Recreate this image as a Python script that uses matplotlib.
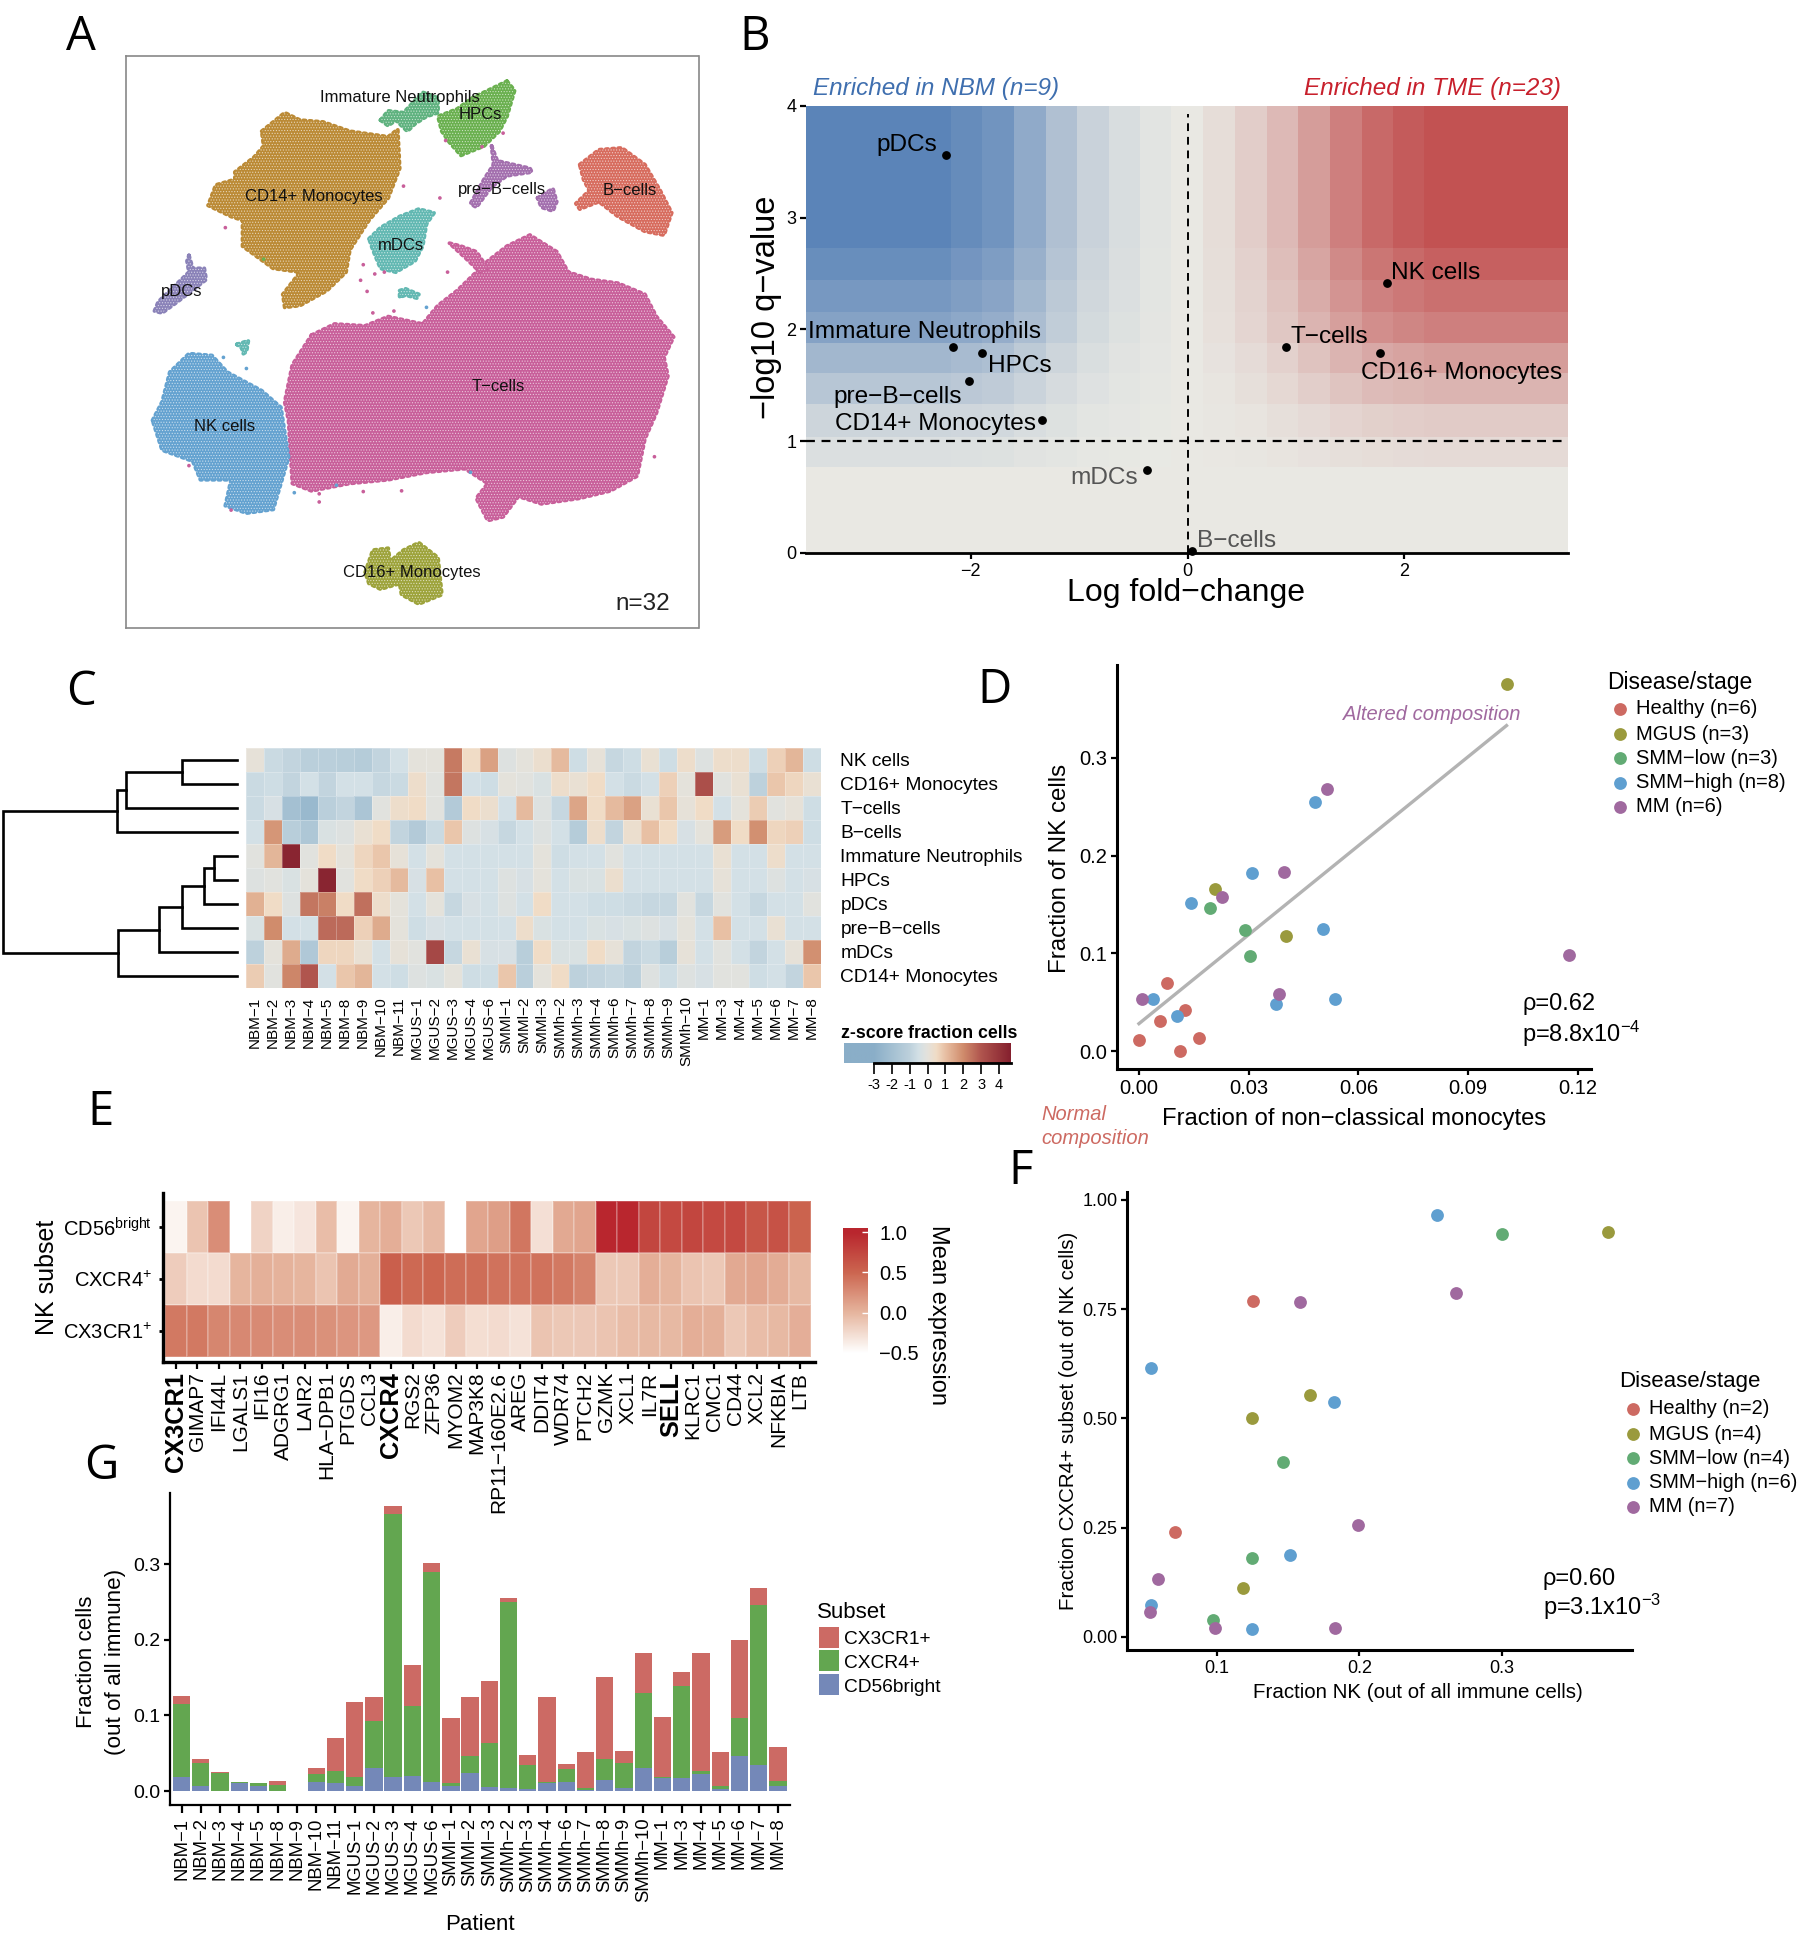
import numpy as np
import matplotlib
matplotlib.use("Agg")
import matplotlib.pyplot as plt
from matplotlib.colors import LinearSegmentedColormap, Normalize
from matplotlib.patches import Rectangle

plt.rcParams['font.family'] = ['Liberation Sans', 'DejaVu Sans']
plt.rcParams['mathtext.default'] = 'regular'
plt.rcParams['hatch.linewidth'] = 0.5
plt.rcParams['axes.unicode_minus'] = True

M = "\u2212"

# ---- panel A, cluster outlines
tsne_outlines = {
    'T-cells': ([500, 560, 640, 700, 790, 830, 880, 960, 1010, 1070, 1140, 1170, 1230, 1300, 1370, 1400, 1445, 1420, 1430, 1400, 1370, 1350, 1280, 1200, 1100, 1040, 1000, 960, 930, 960, 900, 800, 700, 600, 500, 450, 440, 430, 450],
                [770, 740, 745, 720, 740, 690, 650, 570, 530, 500, 545, 600, 620, 630, 660, 720, 775, 830, 880, 980, 1050, 1150, 1190, 1210, 1225, 1205, 1260, 1270, 1210, 1170, 1130, 1140, 1160, 1170, 1190, 1170, 1000, 950, 850]),
    'T-tail': ([860, 890, 930, 960, 940, 900], [522, 530, 545, 590, 600, 560]),
    'NK cells': ([85, 110, 130, 180, 240, 280, 370, 420, 440, 420, 400, 330, 275, 290, 210, 190, 110],
                 [1000, 950, 870, 820, 825, 870, 920, 965, 1100, 1170, 1240, 1250, 1230, 1160, 1160, 1110, 1080]),
    'CD14': ([370, 430, 470, 530, 600, 700, 725, 730, 700, 650, 600, 590, 540, 470, 430, 425, 470, 400, 320, 320, 290, 230, 250, 300, 300, 350, 375],
             [220, 170, 190, 195, 220, 235, 215, 320, 400, 460, 540, 600, 650, 690, 695, 660, 600, 590, 530, 460, 450, 420, 365, 350, 330, 290, 260]),
    'mDCs': ([650, 680, 730, 780, 820, 800, 790, 770, 720, 680, 660], [510, 480, 450, 430, 440, 470, 530, 570, 600, 590, 540]),
    'HPCs': ([1010, 1030, 1010, 990, 950, 890, 860, 840, 830, 880, 920, 960], [85, 110, 180, 220, 260, 285, 250, 220, 180, 160, 130, 110]),
    'Neut': ([680, 700, 740, 790, 830, 830, 800, 770, 750, 720, 700], [190, 165, 170, 115, 130, 170, 180, 200, 220, 190, 205]),
    'preB1': ([970, 985, 1070, 1075, 1010, 970, 930, 915, 950, 975], [260, 300, 320, 330, 340, 370, 425, 415, 350, 310]),
    'preB2': ([1090, 1130, 1140, 1130, 1100], [400, 375, 410, 435, 425]),
    'B-cells': ([1200, 1250, 1310, 1370, 1410, 1440, 1420, 1370, 1300, 1250, 1200, 1190, 1225, 1210],
                [310, 270, 265, 310, 380, 440, 500, 490, 450, 410, 430, 415, 380, 350]),
    'pDCs': ([180, 190, 220, 225, 150, 110, 90, 100, 150, 180, 175], [555, 590, 590, 620, 680, 710, 705, 680, 630, 600, 570]),
    'CD16': ([640, 660, 700, 705, 740, 780, 830, 840, 780, 735, 730, 680, 650],
             [1410, 1350, 1345, 1380, 1350, 1330, 1370, 1470, 1495, 1470, 1440, 1455, 1440]),
    'teal1': ([305, 335, 330, 322, 318], [795, 785, 815, 820, 805]),
    'teal2': ([730, 745, 780, 775, 745, 730], [650, 645, 660, 670, 662, 668]),
}
tsne_colors = {'T-cells': '#c85f9a', 'T-tail': '#c85f9a', 'NK cells': '#64a2d0', 'CD14': '#bb8a35', 'mDCs': '#62b8b2',
               'HPCs': '#6ab04f', 'Neut': '#5fb27f', 'preB1': '#a36fae', 'preB2': '#a36fae', 'B-cells': '#d76c5e',
               'pDCs': '#8a82b8', 'CD16': '#9da33b', 'teal1': '#62b8b2', 'teal2': '#62b8b2'}
stray_x = [275, 835, 740, 635, 628, 645, 665, 690, 660, 715, 520, 520, 635, 735, 855, 1395, 180, 290, 850, 945, 1000, 800, 915, 565, 455, 270, 330, 375]
stray_y = [480, 400, 368, 580, 622, 652, 605, 600, 710, 705, 1198, 1220, 1192, 1190, 600, 1098, 1122, 1242, 245, 262, 225, 695, 1140, 1175, 1195, 830, 860, 565]
stray_c = ['#c85f9a'] * 16 + ['#c85f9a', '#c85f9a', '#c85f9a', '#c85f9a', '#c85f9a', '#64a2d0', '#64a2d0', '#64a2d0', '#64a2d0', '#64a2d0', '#64a2d0', '#6ab04f']
tsne_labels = ['Immature Neutrophils', 'HPCs', 'CD14+ Monocytes', f'pre{M}B{M}cells', f'B{M}cells', 'mDCs', 'pDCs', f'T{M}cells', 'NK cells', 'CD16+ Monocytes']
tsne_label_x = [730, 940, 505, 997, 1330, 733, 162, 988, 272, 763]
tsne_label_y = [130, 175, 395, 378, 380, 527, 652, 908, 1017, 1410]

# ---- panel B
fc_edges = [-3.52, -2.18, -1.9, -1.6, -1.31, -1.02, -0.72, -0.44, -0.15, 0.14, 0.44, 0.73, 1.02, 1.31, 1.61, 1.9, 2.18, 3.52]
q_edges = [0, 0.77, 1.04, 1.33, 1.61, 1.88, 2.16, 2.44, 2.73, 4]
fc_strength = [-1, -0.92, -0.84, -0.62, -0.4, -0.22, -0.12, -0.05, 0, 0.08, 0.18, 0.32, 0.5, 0.7, 0.85, 0.93, 1.0]
q_strength = [0, 0.1, 0.2, 0.35, 0.5, 0.7, 0.8, 0.9, 1.0]
volcano_fc = [-2.23, -2.16, -1.9, -2.02, -1.34, -0.37, 0.04, 1.84, 0.91, 1.78]
volcano_q = [3.56, 1.84, 1.79, 1.54, 1.19, 0.74, 0.02, 2.42, 1.84, 1.79]
volcano_labels = ['pDCs', 'Immature Neutrophils', 'HPCs', f'pre{M}B{M}cells', 'CD14+ Monocytes', 'mDCs', f'B{M}cells', 'NK cells', f'T{M}cells', 'CD16+ Monocytes']
volcano_label_x = [-2.31, -3.5, -1.84, -3.27, -3.25, -0.46, 0.09, 1.88, 0.95, 1.6]
volcano_label_y = [3.65, 1.98, 1.67, 1.40, 1.15, 0.67, 0.11, 2.51, 1.93, 1.61]
volcano_label_ha = ['right', 'left', 'left', 'left', 'left', 'right', 'left', 'left', 'left', 'left']
volcano_label_col = ['k', 'k', 'k', 'k', 'k', '#555555', '#555555', 'k', 'k', 'k']

# ---- panel C
patients_c = [f'NBM{M}{i}' for i in [1, 2, 3, 4, 5, 8, 9, 10, 11]] + [f'MGUS{M}{i}' for i in [1, 2, 3, 4, 6]] + \
             [f'SMMl{M}{i}' for i in [1, 2, 3]] + [f'SMMh{M}{i}' for i in [2, 3, 4, 6, 7, 8, 9, 10]] + \
             [f'MM{M}{i}' for i in [1, 3, 4, 5, 6, 7, 8]]
celltypes_c = ['NK cells', 'CD16+ Monocytes', f'T{M}cells', f'B{M}cells', 'Immature Neutrophils', 'HPCs', 'pDCs', f'pre{M}B{M}cells', 'mDCs', 'CD14+ Monocytes']
z_nk = [0.1, -0.7, -0.9, -1.1, -1.1, -1.2, -1.3, -0.9, -0.5, 0.0, 0.0, 2.3, 0.5, 1.6, -0.2, 0.0, 0.3, 1.1, -0.6, 0.1, -0.8, -0.6, 0.2, -0.6, 0.4, -0.2, 0.4, 0.4, -0.6, 0.7, 1.2, -0.6]
z_cd16 = [-0.7, -0.6, -0.9, -0.5, -0.9, -0.5, -0.5, -0.8, -0.7, 0.4, -0.1, 2.4, -0.5, -0.6, 0.0, -0.1, -0.3, 0.4, 0.2, 0.5, -0.5, -0.7, -0.5, 0.7, 0.0, 3.2, -0.1, 0.2, -1.0, 0.9, 0.6, 0.2]
z_t = [-0.7, -0.4, -2.0, -2.4, -1.1, -0.9, -1.7, -0.1, 0.4, 0.5, -0.1, -1.4, 0.5, 0.3, -0.5, 1.1, -0.2, -0.8, 1.5, 0.5, 1.1, 1.6, 0.2, 0.9, 0.1, 0.5, -0.5, 0.0, 0.8, -0.1, 0.1, -0.6]
z_b = [-0.5, 1.8, -1.2, -1.6, -0.3, -0.2, 0.2, 0.5, -0.9, -1.4, -0.7, 0.9, -0.2, -0.4, -0.8, -0.5, -0.2, -0.5, -1.3, 0.4, -0.9, 0.3, 1.0, 0.5, -0.4, 0.0, 1.7, 0.5, 1.9, 0.6, 0.7, -0.6]
z_neut = [-0.1, 1.2, 4.5, -0.1, 0.5, 0.0, 0.6, 0.9, 0.1, -0.5, 0.0, -0.5, -0.5, -0.5, -0.5, -0.5, 0.0, -0.6, -0.5, -0.5, -0.1, -0.5, -0.5, -0.5, -0.5, -0.5, 0.2, -0.5, -0.5, 0.4, -0.5, -0.5]
z_hpc = [-0.2, -0.1, -0.3, 0.0, 4.5, -0.1, 0.5, 0.7, 1.1, -0.4, 1.0, -0.5, -0.5, -0.5, -0.2, -0.4, 0.0, -0.5, -0.3, -0.3, 0.3, -0.5, -0.5, -0.5, -0.5, -0.5, 0.1, -0.5, -0.5, -0.2, -0.5, -0.4]
z_pdc = [1.3, 0.5, -0.2, 2.4, 2.2, 0.5, 2.5, 0.4, 0.0, -0.5, 0.0, -0.8, -0.4, -0.5, -0.2, -0.5, 0.5, -0.5, -0.5, -0.6, -0.6, -0.7, -0.8, -0.8, -0.1, -0.8, -0.1, -0.5, -0.8, -0.5, -0.5, -0.1]
z_preb = [-0.3, 2.0, -0.5, -0.5, 2.6, 2.6, 0.7, 1.4, 0.0, -0.6, -0.4, -0.5, -0.5, -0.5, -0.5, 0.4, -0.3, -0.5, -0.5, -0.3, -0.4, -0.3, -0.2, -0.4, 0.0, -0.5, 1.0, -0.5, -0.5, 0.2, -0.5, -0.5]
z_mdc = [-1.0, 0.0, 1.4, -1.5, 0.6, 0.6, 0.2, -0.5, 0.1, -0.1, 3.4, -0.8, 0.2, -0.4, -0.4, -1.2, 0.5, -0.3, -0.3, 0.5, 0.1, -0.9, -0.7, -1.2, 0.1, -0.5, -0.1, -0.5, -0.9, -0.5, 0.1, 1.9]
z_cd14 = [0.8, -0.1, 2.1, 3.0, -0.5, 0.9, 1.2, -0.5, -0.6, -0.2, -0.3, 0.0, -0.6, -0.6, 0.9, -1.1, 0.0, 0.5, -1.0, -0.9, -0.8, -1.0, -0.2, -0.6, -0.2, -0.4, -0.1, -0.1, -0.6, -0.5, -0.9, 0.9]
# dendrogram merges: left node, right node, height (leaves are rows 0-9)
dendro_merges = [(0, 1, 0.233), (10, 2, 0.474), (11, 3, 0.511), (4, 5, 0.1), (13, 6, 0.142), (14, 7, 0.236), (15, 8, 0.332), (16, 9, 0.509), (12, 17, 1.0)]

# ---- panels D and F
stage_colors = ['#cd6a62', '#9a9a3d', '#62ab74', '#5f9fd0', '#a0699f']
d_labels = ['Healthy (n=6)', 'MGUS (n=3)', f'SMM{M}low (n=3)', f'SMM{M}high (n=8)', 'MM (n=6)']
d_x = [[0.000, 0.0058, 0.0077, 0.0126, 0.0164, 0.0112], [0.1005, 0.0207, 0.0402], [0.0194, 0.0289, 0.0305],
       [0.0039, 0.0105, 0.0141, 0.0310, 0.0374, 0.0482, 0.0503, 0.0535], [0.0009, 0.0226, 0.0383, 0.0396, 0.0515, 0.1176]]
d_y = [[0.011, 0.031, 0.070, 0.042, 0.0137, 0.000], [0.376, 0.166, 0.118], [0.146, 0.124, 0.097],
       [0.053, 0.036, 0.151, 0.182, 0.0485, 0.255, 0.125, 0.0536], [0.053, 0.158, 0.058, 0.183, 0.2685, 0.098]]
d_fit_x = [0.0, 0.1005]
d_fit_y = [0.028, 0.333]
f_labels = ['Healthy (n=2)', 'MGUS (n=4)', f'SMM{M}low (n=4)', f'SMM{M}high (n=6)', 'MM (n=7)']
f_x = [[0.125, 0.0703], [0.3745, 0.1655, 0.1245, 0.118], [0.300, 0.146, 0.1245, 0.097],
       [0.2545, 0.054, 0.1824, 0.1514, 0.0534, 0.1248], [0.268, 0.158, 0.199, 0.0586, 0.053, 0.0983, 0.183]]
f_y = [[0.769, 0.241], [0.927, 0.554, 0.500, 0.111], [0.923, 0.400, 0.181, 0.038],
       [0.966, 0.616, 0.537, 0.188, 0.074, 0.019], [0.786, 0.767, 0.257, 0.132, 0.058, 0.020, 0.020]]

# ---- panel E
genes = ['CX3CR1', 'GIMAP7', 'IFI44L', 'LGALS1', 'IFI16', 'ADGRG1', 'LAIR2', f'HLA{M}DPB1', 'PTGDS', 'CCL3',
         'CXCR4', 'RGS2', 'ZFP36', 'MYOM2', 'MAP3K8', f'RP11{M}160E2.6', 'AREG', 'DDIT4', 'WDR74', 'PTCH2',
         'GZMK', 'XCL1', 'IL7R', 'SELL', 'KLRC1', 'CMC1', 'CD44', 'XCL2', 'NFKBIA', 'LTB']
bold_genes = ['CX3CR1', 'CXCR4', 'SELL']
nk_subsets = ['$CD56^{bright}$', '$CXCR4^{+}$', '$CX3CR1^{+}$']
expr_cd56 = [-0.42, -0.1, 0.25, -0.5, -0.2, -0.38, -0.32, -0.05, -0.42, 0.0, 0.05, -0.12, -0.03, -0.5, 0.1, 0.15, 0.4, -0.28, 0.08, 0.1, 1.0, 1.0, 0.75, 0.72, 0.75, 0.72, 0.72, 0.62, 0.65, 0.52]
expr_cxcr4 = [-0.15, -0.25, -0.25, 0.0, 0.03, 0.02, 0.0, -0.1, 0.07, 0.03, 0.55, 0.48, 0.5, 0.45, 0.45, 0.42, 0.42, 0.42, 0.38, 0.32, -0.12, -0.12, 0.05, 0.0, -0.1, -0.12, 0.08, 0.1, 0.06, -0.02]
expr_cx3cr1 = [0.38, 0.38, 0.3, 0.28, 0.27, 0.25, 0.25, 0.23, 0.2, 0.18, -0.38, -0.25, -0.3, -0.15, -0.27, -0.25, -0.3, -0.1, -0.12, -0.13, -0.1, -0.05, -0.02, -0.02, 0.05, 0.03, -0.12, -0.05, -0.02, 0.04]

# ---- panel G, tops of the stacked segments
cd56_top = [.019, .007, 0, .011, .006, 0, 0, .012, .010, .006, .031, .018, .020, .012, .007, .024, .005, .004, .002, .010, .012, .001, .014, .004, .031, .017, .017, .023, .003, .046, .035, .006]
cxcr4_top = [.115, .037, .024, .012, .010, .008, 0, .023, .027, .019, .093, .366, .112, .289, .011, .046, .063, .250, .035, .012, .029, .004, .042, .037, .129, .019, .139, .026, .006, .097, .246, .013]
total_top = [.125, .042, .025, .012, .010, .013, 0, .031, .070, .118, .124, .377, .166, .301, .097, .124, .146, .255, .048, .124, .036, .052, .151, .053, .183, .098, .158, .183, .052, .199, .268, .058]
subset_labels = ['CX3CR1+', 'CXCR4+', 'CD56bright']
subset_colors = ['#cc6a64', '#63a650', '#7488b8']

W, H = 1800, 1936
fig = plt.figure(figsize=(W / 100, H / 100), dpi=100)


def add_ax(left, top, right, bottom, **kw):
    return fig.add_axes([left / W, 1 - bottom / H, (right - left) / W, (bottom - top) / H], **kw)


def classic(ax, lw=2.2, tick=13):
    ax.spines[['top', 'right']].set_visible(False)
    ax.spines[['left', 'bottom']].set_linewidth(lw)
    ax.tick_params(width=1.6, length=4, labelsize=tick, pad=3)


ov = add_ax(0, 0, W, H, zorder=10)
ov.set_xlim(0, W)
ov.set_ylim(H, 0)
ov.axis('off')
ov.patch.set_alpha(0)

for letter, lx, ly in [('A', 81, 37), ('B', 755, 37), ('C', 81, 692), ('D', 994, 690), ('E', 101, 1112), ('F', 1021, 1171), ('G', 101, 1466)]:
    ov.text(lx, ly, letter, fontsize=34, family=['Open Sans', 'DejaVu Sans'], ha='center', va='center')

# A
ax = add_ax(126.5, 56, 698.5, 628)
ax.set_xlim(17, 1510)
ax.set_ylim(1560, 17)
ax.set_xticks([])
ax.set_yticks([])
for s in ax.spines.values():
    s.set_color('#888888')
    s.set_linewidth(1.2)
for name, (xs, ys) in tsne_outlines.items():
    col = tsne_colors[name]
    ax.fill(xs, ys, facecolor=col, edgecolor=col, lw=2.8, ls=(0, (0.6, 1.0)), capstyle='round', joinstyle='round')
    ax.fill(xs, ys, facecolor='none', edgecolor='white', hatch='......', lw=0, alpha=0.6)
ax.scatter(stray_x, stray_y, s=7, c=stray_c, linewidths=0)
for lab, tx, ty in zip(tsne_labels, tsne_label_x, tsne_label_y):
    ax.text(tx, ty, lab, fontsize=12, ha='center', va='center', color='#111111')
ov.text(670, 604, 'n=32', fontsize=17.5, ha='right', va='center', color='#222222')

# B
ax = add_ax(806, 106, 1568, 553)
bg_cmap = LinearSegmentedColormap.from_list('bg', ['#5b84b8', '#e9e9e4', '#c25252'])
ax.pcolormesh(fc_edges, q_edges, np.outer(q_strength, fc_strength), cmap=bg_cmap, vmin=-1, vmax=1)
ax.set_xlim(-3.52, 3.51)
ax.set_ylim(0, 4)
ax.axhline(1, color='k', ls=(0, (4, 3)), lw=1.6)
ax.plot([0, 0], [0, 3.93], color='k', ls=(0, (4, 3)), lw=1.4)
ax.scatter(volcano_fc, volcano_q, s=28, color='k', zorder=3, clip_on=False)
for lab, tx, ty, ha, c in zip(volcano_labels, volcano_label_x, volcano_label_y, volcano_label_ha, volcano_label_col):
    ax.text(tx, ty, lab, fontsize=17.6, ha=ha, va='center', color=c)
classic(ax, lw=2, tick=13)
ax.spines['left'].set_visible(False)
ax.set_xticks([-2, 0, 2])
ax.set_yticks([0, 1, 2, 3, 4])
ov.text(813, 89, 'Enriched in NBM (n=9)', fontsize=17.5, style='italic', color='#3f6faf', va='center')
ov.text(1561, 89, 'Enriched in TME (n=23)', fontsize=17.5, style='italic', color='#c8202c', va='center', ha='right')
ov.text(1186, 593, f'Log fold{M}change', fontsize=23, ha='center', va='center')
ov.text(767, 307, f'{M}log10 q{M}value', fontsize=23.5, rotation=90, ha='center', va='center')

# C dendrogram
ax = add_ax(3, 748, 237, 988)
node_y = {i: i + 0.5 for i in range(10)}
node_h = {i: 0.0 for i in range(10)}
for i, (a, b, h) in enumerate(dendro_merges):
    ax.plot([node_h[a], h, h, node_h[b]], [node_y[a], node_y[a], node_y[b], node_y[b]], color='k', lw=1.9, solid_joinstyle='miter', clip_on=False)
    node_y[10 + i] = (node_y[a] + node_y[b]) / 2
    node_h[10 + i] = h
ax.set_xlim(1, 0)
ax.set_ylim(10, 0)
ax.axis('off')

# C heatmap
z_matrix = np.array([z_nk, z_cd16, z_t, z_b, z_neut, z_hpc, z_pdc, z_preb, z_mdc, z_cd14])
z_nodes = [-4.66, -3, -1, -0.5, 0, 0.5, 1, 2, 3, 4.66]
z_cols = ['#8aaec8', '#8aaec8', '#bdd1dc', '#d3e0e6', '#e4e2dc', '#f0dcc6', '#e8c0a4', '#d08c6c', '#b0554e', '#85202e']
z_cmap = LinearSegmentedColormap.from_list('z', [((v + 4.66) / 9.32, c) for v, c in zip(z_nodes, z_cols)])
z_norm = Normalize(-4.66, 4.66)
ax = add_ax(246, 748, 821, 988)
ax.pcolormesh(z_matrix, cmap=z_cmap, norm=z_norm, edgecolors=(1, 1, 1, 0.25), linewidth=0.4)
ax.set_ylim(10, 0)
ax.set_xticks(np.arange(32) + 0.5)
ax.set_xticklabels(patients_c, rotation=90, fontsize=11, va='top', ha='center')
ax.set_yticks(np.arange(10) + 0.5)
ax.set_yticklabels(celltypes_c, fontsize=13.8)
ax.yaxis.tick_right()
ax.tick_params(length=0)
ax.tick_params(axis='x', pad=6)
ax.tick_params(axis='y', pad=14)
for s in ax.spines.values():
    s.set_visible(False)

ov.text(841, 1033, 'z-score fraction cells', fontsize=12.7, weight='bold', va='center')
cax = add_ax(844, 1043, 1011, 1063)
cax.imshow(np.linspace(-4.66, 4.66, 256)[None, :], extent=[-4.66, 4.66, 0, 1], aspect='auto', cmap=z_cmap, norm=z_norm)
cax.set_yticks([])
cax.set_xticks(range(-3, 5))
cax.set_xticklabels(['-3', '-2', '-1', '0', '1', '2', '3', '4'], fontsize=10.5)
cax.tick_params(axis='x', length=8, width=1.2, pad=3)
cax.spines[['top', 'left', 'right']].set_visible(False)
cax.spines['bottom'].set_bounds(-3, 4.66)
cax.spines['bottom'].set_linewidth(2)

# D
ax = add_ax(1117, 665, 1591, 1069)
ax.plot(d_fit_x, d_fit_y, color='#b3b3b3', lw=2.4, zorder=1)
for xs, ys, c in zip(d_x, d_y, stage_colors):
    ax.scatter(xs, ys, s=85, color=c, linewidths=0, zorder=2, clip_on=False)
ax.set_xlim(-0.006, 0.1236)
ax.set_ylim(-0.0184, 0.395)
ax.set_xticks([0, 0.03, 0.06, 0.09, 0.12])
ax.set_xticklabels(['0.00', '0.03', '0.06', '0.09', '0.12'])
ax.set_yticks([0, 0.1, 0.2, 0.3])
classic(ax, tick=14.5)
ov.text(1354, 1119, f'Fraction of non{M}classical monocytes', fontsize=17.1, ha='center', va='center')
ov.text(1060, 868, 'Fraction of NK cells', fontsize=17.4, rotation=90, ha='center', va='center')
ov.text(1521, 714, 'Altered composition', fontsize=14.5, style='italic', color='#a0699f', ha='right', va='center')
ov.text(1041, 1114, 'Normal', fontsize=14.5, style='italic', color='#cd6a62', va='center')
ov.text(1041, 1138, 'composition', fontsize=14.5, style='italic', color='#cd6a62', va='center')
ov.text(1522, 1004, '\u03c1=0.62', fontsize=17, va='center')
ov.text(1522, 1034, 'p=8.8x10$^{-4}$', fontsize=17, va='center')

ov.text(1607, 682, 'Disease/stage', fontsize=16.5, va='center')
for lab, c, ly in zip(d_labels, stage_colors, [709, 734, 758, 783, 807]):
    ov.scatter([1620], [ly], s=85, color=c, linewidths=0)
    ov.text(1636, ly, lab, fontsize=14.5, va='center')

# E
ax = add_ax(163, 1193, 815, 1362)
ax.set_zorder(2)
expr_matrix = np.array([expr_cd56, expr_cxcr4, expr_cx3cr1])
e_nodes = [-0.5, -0.3, 0.0, 0.5, 1.0]
e_cols = ['#ffffff', '#f5e2d8', '#e6b59e', '#cc6650', '#b9262e']
e_cmap = LinearSegmentedColormap.from_list('e', [((v + 0.5) / 1.5, c) for v, c in zip(e_nodes, e_cols)])
e_norm = Normalize(-0.5, 1.0)
cells = add_ax(165, 1201, 811, 1357)
cells.pcolormesh(expr_matrix, cmap=e_cmap, norm=e_norm, edgecolors=(1, 1, 1, 0.2), linewidth=0.3)
cells.set_ylim(3, 0)
cells.axis('off')
ax.patch.set_alpha(0)
ax.set_xlim((165 - 163) / -21.53, 30 + (815 - 811) / 21.53)
ax.set_ylim(3 + 5 / 52, -8 / 52)
ax.set_xticks(np.arange(30) + 0.5)
ax.set_xticklabels(genes, rotation=90, fontsize=15, va='top', ha='center')
ax.set_yticks([0.5, 1.5, 2.5])
ax.set_yticklabels(nk_subsets, fontsize=14.5)
classic(ax, lw=2.4)
ax.tick_params(axis='x', labelsize=15, width=1.6, length=5, pad=2)
ax.tick_params(axis='y', labelsize=14.5, width=2, length=3, pad=5)
for t in ax.get_xticklabels():
    if t.get_text() in bold_genes:
        t.set_fontweight('bold')
        t.set_fontsize(18.3)
ax.spines['top'].set_visible(False)
ov.text(47, 1277, 'NK subset', fontsize=18, rotation=90, ha='center', va='center')
ov.text(938, 1315, 'Mean expression', fontsize=17, rotation=270, ha='center', va='center')
cax = add_ax(843, 1228, 868, 1357)
cax.imshow(np.linspace(1.05, -0.55, 256)[:, None], extent=[0, 1, -0.55, 1.05], aspect='auto', cmap=e_cmap, norm=e_norm)
cax.set_xticks([])
cax.yaxis.tick_right()
cax.set_yticks([-0.5, 0, 0.5, 1.0])
cax.set_yticklabels([f'{M}0.5', '0.0', '0.5', '1.0'], fontsize=14.5)
cax.tick_params(axis='y', direction='in', color='white', length=4, width=1, pad=8)
for s in cax.spines.values():
    s.set_visible(False)

# F
ax = add_ax(1127, 1192, 1632, 1650)
for xs, ys, c in zip(f_x, f_y, stage_colors):
    ax.scatter(xs, ys, s=85, color=c, linewidths=0, clip_on=False)
ax.set_xlim(0.0368, 0.3914)
ax.set_ylim(-0.03, 1.018)
ax.set_xticks([0.1, 0.2, 0.3])
ax.set_yticks([0, 0.25, 0.5, 0.75, 1])
ax.set_yticklabels(['0.00', '0.25', '0.50', '0.75', '1.00'])
classic(ax, tick=13)
ov.text(1418, 1692, 'Fraction NK (out of all immune cells)', fontsize=14.8, ha='center', va='center')
ov.text(1068, 1421, 'Fraction CXCR4+ subset (out of NK cells)', fontsize=14.8, rotation=90, ha='center', va='center')
ov.text(1543, 1579, '\u03c1=0.60', fontsize=17, va='center')
ov.text(1543, 1607, 'p=3.1x10$^{-3}$', fontsize=17, va='center')
ov.text(1619, 1382, 'Disease/stage', fontsize=16, va='center')
for lab, c, ly in zip(f_labels, stage_colors, [1409, 1434, 1458, 1483, 1507]):
    ov.scatter([1633], [ly], s=85, color=c, linewidths=0)
    ov.text(1649, ly, lab, fontsize=14.4, va='center')

# G
ax = add_ax(170, 1493, 790, 1805)
pos = np.arange(32)
cd56_top, cxcr4_top, total_top = map(np.array, (cd56_top, cxcr4_top, total_top))
ax.bar(pos, cd56_top, width=0.9, color=subset_colors[2])
ax.bar(pos, cxcr4_top - cd56_top, bottom=cd56_top, width=0.9, color=subset_colors[1])
ax.bar(pos, total_top - cxcr4_top, bottom=cxcr4_top, width=0.9, color=subset_colors[0])
ax.set_xlim(-0.6, 31.63)
ax.set_ylim(-0.0185, 0.394)
ax.set_xticks(pos)
ax.set_xticklabels(patients_c, rotation=90, fontsize=13.3, va='top', ha='center')
ax.set_yticks([0, 0.1, 0.2, 0.3])
classic(ax, lw=1.6, tick=14)
ax.tick_params(axis='x', labelsize=13.3, length=6)
ov.text(86, 1662, 'Fraction cells', fontsize=16.1, rotation=90, ha='center', va='center')
ov.text(115, 1662, '(out of all immune)', fontsize=16.1, rotation=90, ha='center', va='center')
ov.text(480, 1925, 'Patient', fontsize=16, ha='center', va='center')
ov.text(817, 1613, 'Subset', fontsize=16, va='center')
for lab, c, top in zip(subset_labels, subset_colors, [1627, 1650, 1674]):
    ov.add_patch(Rectangle((819, top), 20, 21, color=c, lw=0))
    ov.text(844, top + 13, lab, fontsize=13.8, va='center')

fig.savefig('out.png', dpi=100)
